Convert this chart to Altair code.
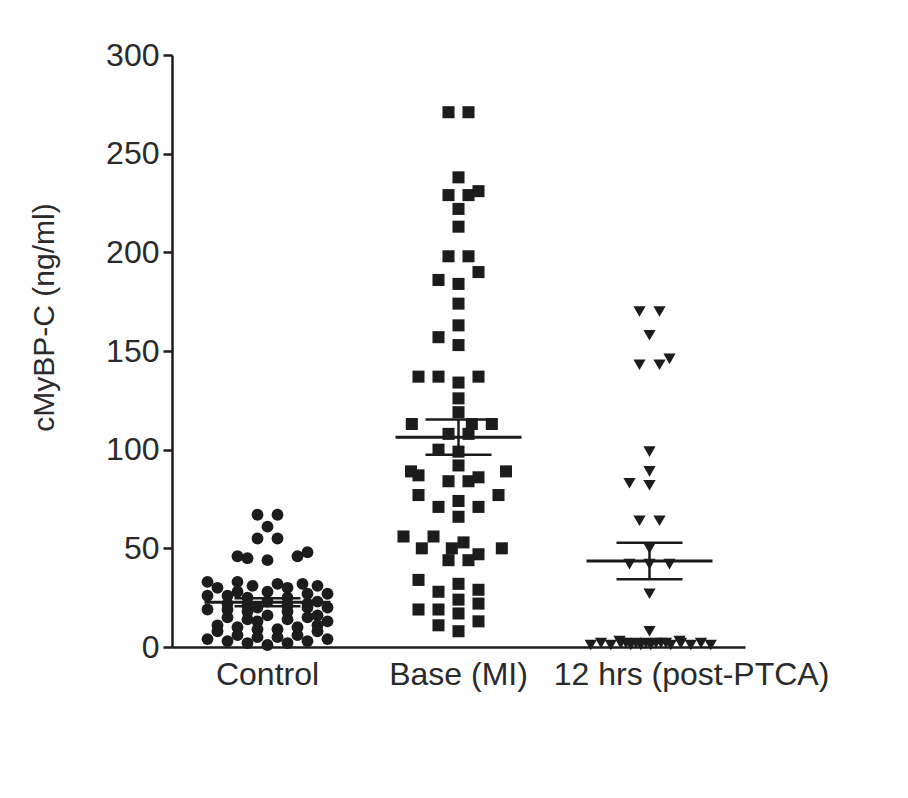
import altair as alt
import pandas as pd
import math

# ---------------- data ----------------
groups = ["Control", "Base (MI)", "12 hrs (post-PTCA)"]

control = [67, 67, 61, 55, 55, 48, 46, 46, 45, 44,
           33, 33, 32, 32, 31, 31, 30, 30,
           28, 28, 27, 27, 26, 26, 25, 25,
           23, 23, 22, 22, 21, 21, 20, 20, 20, 19, 19, 18, 18,
           16, 16, 15, 15, 14, 14, 13, 13,
           11, 11, 10, 10, 9, 9, 8, 8,
           6, 6, 5, 5, 4, 4, 3, 3, 2, 2, 1]

base_mi = [271, 271, 238, 231, 229, 222, 229, 213, 198, 198, 190, 186, 184, 174,
           163, 157, 153, 137, 134, 137, 137, 126, 119, 113, 113, 113, 108, 108,
           100, 99, 92, 89, 86, 84, 84, 87, 89, 77, 71, 66, 71, 74, 77, 56, 56,
           50, 50, 44, 44, 47, 50, 53, 32, 34, 28, 29, 22, 19, 19, 24, 17, 13, 11, 8]

post_ptca = [170, 170, 158, 146, 143, 143, 99, 89, 83, 82, 64, 64, 50, 42, 42, 42,
             27, 8,
             2, 1, 2, 1, 3, 1, 2, 2, 1, 2, 1, 2, 3, 1, 2, 1, 2, 1, 2, 2]

y_ticks = [0, 50, 100, 150, 200, 250, 300]

# ---------------- layout ----------------
W, H = 573, 592
PX_PER_UNIT = H / 300.0
BAND = W / 3.0


def swarm(values, step=10.0, roww=10.0, rowh=12.0, max_half=62.0):
    """Column-scatter layout (rectangular collision), offsets in pixels.
    Points sharing the same value are re-centred so rows are symmetric."""
    order = sorted(range(len(values)), key=lambda i: values[i])
    placed = []
    offs = [0.0] * len(values)
    cands = [0.0]
    k = 1
    while k * step <= max_half:
        cands += [-k * step, k * step]
        k += 1
    fine = []
    k = 0
    while k * step / 2 <= max_half:
        fine += [0.0] if k == 0 else [-k * step / 2, k * step / 2]
        k += 1
    for i in order:
        y = values[i] * PX_PER_UNIT
        best = None
        for c in cands:
            if all(abs(c - px) >= roww - 1e-9 or abs(y - py) >= rowh for px, py in placed):
                best = c
                break
        if best is None:
            bestd = -1
            for c in fine:
                d = min(math.hypot(c - px, y - py) for px, py in placed)
                if d > bestd + 1e-9:
                    bestd, best = d, c
        placed.append((best, y))
        offs[i] = best
    by_val = {}
    for i, v in enumerate(values):
        by_val.setdefault(v, []).append(i)
    for v, idx in by_val.items():
        if len(idx) > 1:
            m = sum(offs[i] for i in idx) / len(idx)
            if abs(m) <= step:
                for i in idx:
                    offs[i] -= m
    return offs


rows = []
for g, vals, st, rw, rh, mh in [
    (groups[0], control, 10.0, 11.5, 9.0, 64),
    (groups[1], base_mi, 10.0, 19.0, 12.0, 56),
    (groups[2], post_ptca, 10.0, 19.0, 10.0, 60),
]:
    for v, o in zip(vals, swarm(vals, st, rw, rh, mh)):
        rows.append({"group": g, "value": v, "off": o})
df = pd.DataFrame(rows)

INK = "#1c1c1c"
FONT = "Liberation Sans"

x_enc = alt.X(
    "group:N",
    sort=groups,
    scale=alt.Scale(domain=groups, paddingInner=0, paddingOuter=0),
    axis=alt.Axis(
        title=None,
        labelAngle=0,
        ticks=False,
        labelPadding=12,
        labelFontSize=32,
        labelLimit=0,
        labelOffset={"condition": {"test": "datum.value == '12 hrs (post-PTCA)'", "value": 42}, "value": 0},
    ),
)
y_enc = alt.Y(
    "value:Q",
    scale=alt.Scale(domain=[0, 300], nice=False, zero=True),
    axis=alt.Axis(values=y_ticks, title="cMyBP-C (ng/ml)", titleFontSize=30,
                  titleFontWeight="normal", titlePadding=46, titleY=262,
                  labelFontSize=32, tickSize=9, labelPadding=4),
)

points = alt.Chart(df).mark_point(filled=True, color=INK, opacity=1).encode(
    x=x_enc,
    xOffset=alt.XOffset("off:Q", scale=alt.Scale(domain=[-BAND / 2, BAND / 2])),
    y=y_enc,
    shape=alt.Shape("group:N", scale=alt.Scale(domain=groups, range=["circle", "square", "triangle-down"]), legend=None),
    size=alt.Size("group:N", scale=alt.Scale(domain=groups, range=[140, 150, 100]), legend=None),
)

stats = alt.Chart(df).transform_aggregate(
    mean="mean(value)", se="stderr(value)", groupby=["group"]
).transform_calculate(lo="datum.mean - datum.se", hi="datum.mean + datum.se")

xs = alt.X("group:N", sort=groups)
mean_tick = stats.mark_tick(size=126, thickness=3, color=INK, opacity=1).encode(x=xs, y="mean:Q")
sem_rule = stats.mark_rule(strokeWidth=2.5, color=INK).encode(x=xs, y="lo:Q", y2="hi:Q")
lo_tick = stats.mark_tick(size=66, thickness=2.5, color=INK, opacity=1).encode(x=xs, y="lo:Q")
hi_tick = stats.mark_tick(size=66, thickness=2.5, color=INK, opacity=1).encode(x=xs, y="hi:Q")

chart = alt.layer(points, mean_tick, sem_rule, lo_tick, hi_tick).properties(
    width=W, height=H,
    padding={"left": 21, "top": 31, "right": 10, "bottom": 10},
    background="white",
).configure_view(stroke=None).configure_axis(
    grid=False,
    domainColor=INK, domainWidth=2.5,
    tickColor=INK, tickWidth=2.5,
    labelColor="#2a2a2a", titleColor="#2a2a2a",
    labelFont=FONT, titleFont=FONT,
)

chart.save("out.html", embed_options={"renderer": "svg", "actions": False})
